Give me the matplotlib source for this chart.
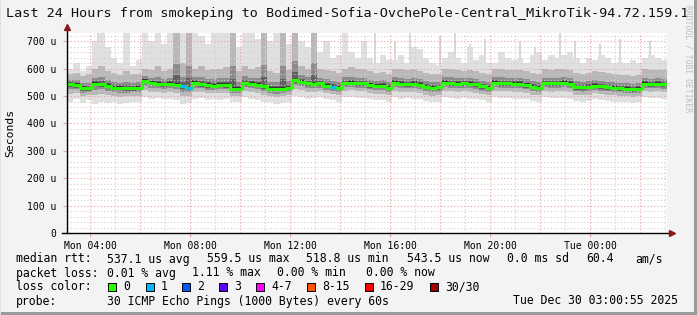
import numpy as np
import matplotlib.pyplot as plt
from matplotlib.patches import Rectangle

# time axis: hours since Mon 00:00, one step = 15 min
start_h = 3.08
step_h = 0.25

median = [543, 540, 529, 528, 545, 543, 537, 531, 530, 528, 528, 530,
          555, 548, 545, 543, 545, 542, 535, 530, 548, 543, 540, 538,
          541, 540, 527, 526, 547, 545, 541, 536, 527, 526, 527, 530,
          558, 552, 547, 545, 546, 538, 533, 530, 547, 548, 547, 546,
          540, 537, 537, 531, 548, 544, 543, 545, 541, 533, 530, 532,
          549, 547, 545, 546, 544, 543, 535, 530, 549, 547, 546, 545,
          544, 540, 533, 531, 547, 546, 547, 548, 545, 532, 532, 533,
          538, 535, 532, 530, 528, 527, 525, 527, 545, 543, 545, 543]

loss = [0] * 96
loss[18] = 1
loss[19] = 1
loss[42] = 1

smoke_top = [600, 620, 590, 610, 700, 732, 680, 640, 620, 732, 610, 630,
             732, 700, 732, 690, 732, 732, 732, 732, 732, 720, 690, 732,
             732, 732, 700, 680, 732, 732, 710, 732, 700, 732, 732, 690,
             732, 700, 680, 690, 660, 700, 640, 650, 732, 660, 640, 700,
             640, 620, 650, 632, 630, 650, 620, 680, 670, 640, 620, 615,
             640, 660, 640, 620, 680, 630, 650, 620, 620, 660, 640, 630,
             640, 620, 650, 660, 630, 650, 640, 650, 660, 640, 620, 640,
             630, 650, 640, 620, 625, 620, 630, 620, 640, 650, 640, 630]

smoke_mid = [580, 585, 575, 580, 600, 610, 590, 585, 578, 590, 580, 582,
             600, 595, 610, 590, 600, 732, 620, 732, 600, 610, 595, 600,
             600, 605, 732, 590, 610, 600, 605, 732, 590, 585, 732, 595,
             732, 610, 600, 732, 600, 595, 590, 585, 600, 605, 598, 600,
             590, 585, 588, 582, 600, 598, 595, 600, 590, 585, 580, 582,
             598, 600, 595, 592, 596, 590, 585, 580, 598, 600, 595, 596,
             595, 592, 585, 582, 598, 596, 597, 598, 595, 585, 582, 584,
             590, 586, 583, 580, 578, 577, 575, 578, 597, 595, 596, 594]

smoke_bot = [480, 490, 475, 485, 470, 480, 475, 478, 470, 475, 480, 478,
             495, 490, 492, 488, 490, 485, 470, 475, 490, 492, 485, 488,
             485, 490, 478, 480, 495, 490, 485, 480, 478, 470, 475, 480,
             500, 495, 490, 492, 495, 488, 485, 480, 495, 498, 492, 494,
             490, 485, 485, 480, 495, 490, 492, 490, 488, 482, 478, 480,
             495, 492, 490, 493, 490, 488, 485, 480, 495, 492, 494, 490,
             490, 488, 482, 480, 495, 492, 494, 493, 490, 482, 480, 482,
             488, 485, 482, 480, 478, 480, 476, 478, 495, 492, 494, 490]

spike_t = [4.32, 5.40, 15.40, 16.20, 16.80, 18.00, 18.60, 19.20, 19.80,
           21.20, 21.80, 22.80, 23.40, 24.40, 25.20, 26.40]
spike_top = [732, 732, 732, 700, 732, 720, 732, 690, 710,
             700, 680, 732, 700, 690, 710, 700]

tick_hours = [4, 8, 12, 16, 20, 24]
tick_labels = ['Mon 04:00', 'Mon 08:00', 'Mon 12:00', 'Mon 16:00', 'Mon 20:00', 'Tue 00:00']
y_ticks = [0, 100, 200, 300, 400, 500, 600, 700]
y_labels = ['0', '100 u', '200 u', '300 u', '400 u', '500 u', '600 u', '700 u']

loss_names = ['0', '1', '2', '3', '4-7', '8-15', '16-29', '30/30']
loss_colors = ['#26ff00', '#00b8ff', '#0059ff', '#5e00ff', '#ff00ff', '#ff5500', '#ff0000', '#a10000']

W, H = 697, 315
mono = 'DejaVu Sans Mono'
plt.rcParams['font.family'] = mono

fig = plt.figure(figsize=(W / 100, H / 100), dpi=100, facecolor='#f3f3f3')
ax = fig.add_axes([67 / W, 1 - 233 / H, 600 / W, 200.5 / H])
ax.set_facecolor('white')

med = np.array(median, float)
top = np.array(smoke_top, float)
mid = np.array(smoke_mid, float)
bot = np.array(smoke_bot, float)
n = len(med)
edges = start_h + step_h * np.arange(n + 1)


def ext(a):
    return np.append(a, a[-1])


# smoke
ax.vlines(spike_t, 550, spike_top, color='#d6d6d6', lw=1.3, zorder=1.4)
ax.fill_between(edges, ext(bot), ext(top), step='post', color='#e0e0e0', lw=0, zorder=1.5)
ax.fill_between(edges, ext(med - (med - bot) * 0.55), ext(mid), step='post', color='#b8b8b8', lw=0, zorder=1.6)
ax.fill_between(edges, ext(med - (med - bot) * 0.3), ext(med + (mid - med) * 0.4), step='post',
                color='#8c8c8c', lw=0, zorder=1.7)
ax.fill_between(edges, ext(med - 9), ext(med + (mid - med) * 0.18), step='post', color='#606060', lw=0, zorder=1.8)
ax.fill_between(edges, ext(med - 4), ext(med + 6), step='post', color='#333333', lw=0, zorder=1.9)

# grid
for v in range(20, 740, 20):
    if v % 100:
        ax.axhline(v, color='#cfcfcf', lw=0.8, ls=(0, (1, 2)), zorder=2.5)
for v in y_ticks[1:]:
    ax.axhline(v, color='#e6a0a0', lw=0.8, ls=(0, (1, 2)), zorder=2.6)
for h in range(4, 28):
    c = '#e6a0a0' if h % 2 == 0 else '#cfcfcf'
    ax.axvline(h, color=c, lw=0.8, ls=(0, (1, 2)), zorder=2.6)

# median line
ax.step(edges, ext(med), where='post', color=loss_colors[0], lw=2.2, zorder=3)
for i in range(n):
    if loss[i]:
        ax.hlines(med[i], edges[i], edges[i + 1], color=loss_colors[loss[i]], lw=2.2, zorder=3.1)

ax.set_xlim(start_h, start_h + 24)
ax.set_ylim(0, 732)
for s in ax.spines.values():
    s.set_visible(False)

ax.set_xticks(tick_hours)
ax.set_xticklabels(tick_labels)
ax.set_yticks(y_ticks)
ax.set_yticklabels(y_labels)
ax.tick_params(axis='x', length=3, color='#e6a0a0', pad=2.5, labelsize=7)
ax.tick_params(axis='y', length=3, color='#e6a0a0', pad=4.5, labelsize=7)

# axis lines with arrows
ax.plot([0, 0], [0, 1.02], transform=ax.transAxes, color='black', lw=1, clip_on=False, zorder=4)
ax.plot([-0.008, 1.006], [0, 0], transform=ax.transAxes, color='black', lw=1, clip_on=False, zorder=4)
ax.plot([0], [1.025], transform=ax.transAxes, marker='^', ms=4.5, color='#8b1a1a', clip_on=False, zorder=5)
ax.plot([1.008], [0], transform=ax.transAxes, marker='>', ms=4.5, color='#8b1a1a', clip_on=False, zorder=5)


def ftext(x, y, s, **kw):
    fig.text(x / W, 1 - y / H, s, va='center', family=mono, **kw)


ftext(6, 13.5, 'Last 24 Hours from smokeping to Bodimed-Sofia-OvchePole-Central_MikroTik-94.72.159.1',
      size=9.7, color='#111111')
ftext(10, 133, 'Seconds', size=8.2, rotation=90, ha='center')
fig.text(688 / W, 1 - 5 / H, 'RRDTOOL / TOBI OETIKER', rotation=270, va='top', ha='center',
         size=5.8, color='#bdbdbd', family=mono)

fs = 8.3
rows = [
    (259, [(16, 'median rtt:'), (107, '537.1 us avg'), (207, '559.5 us max'), (306, '518.8 us min'),
           (407, '543.5 us now'), (507, '0.0 ms sd'), (586, '60.4'), (635, 'am/s')]),
    (273, [(16, 'packet loss:'), (107, '0.01 % avg'), (192, '1.11 % max'), (277, '0.00 % min'),
           (366, '0.00 % now')]),
    (287, [(16, 'loss color:')]),
    (301, [(16, 'probe:'), (107, '30 ICMP Echo Pings (1000 Bytes) every 60s'),
           (513, 'Tue Dec 30 03:00:55 2025')]),
]
for y, items in rows:
    for x, s in items:
        ftext(x, y, s, size=fs)

box_x = [108, 146, 182, 219, 256, 307, 365, 430]
for bx, name, col in zip(box_x, loss_names, loss_colors):
    fig.add_artist(Rectangle((bx / W, 1 - 291 / H), 8 / W, 8 / H, transform=fig.transFigure,
                             facecolor=col, edgecolor='black', lw=0.7))
    ftext(bx + 15, 287, name, size=fs)

# frame
fig.add_artist(Rectangle((694 / W, 0), 3 / W, 1, transform=fig.transFigure, color='#9a9a9a', lw=0))
fig.add_artist(Rectangle((0, 0), 1, 3 / H, transform=fig.transFigure, color='#9a9a9a', lw=0))
fig.add_artist(Rectangle((0, 0), 1 / W, 1, transform=fig.transFigure, color='#e0e0e0', lw=0))

fig.savefig('out.png', dpi=100, facecolor=fig.get_facecolor())
